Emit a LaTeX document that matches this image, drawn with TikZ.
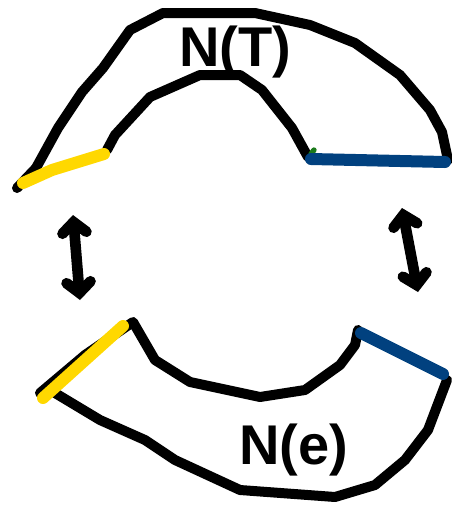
\documentclass[tikz,border=0pt]{standalone}
\usepackage{fontspec}
\setmainfont{Liberation Sans}
\usetikzlibrary{arrows.meta}
\definecolor{sketchyel}{HTML}{FFD800}
\definecolor{sketchblu}{HTML}{01417F}
\definecolor{sketchgrn}{HTML}{1B7A1B}

\begin{document}
\begin{tikzpicture}[
    x=0.75pt, y=-0.75pt,
    pen/.style={draw=black, line width=7.5pt, line join=round, line cap=round},
    hilite/.style={line width=9pt, line cap=round},
    swap/.style={pen, line width=8pt, {Straight Barb[length=8pt,width=18pt,line cap=round]}-{Straight Barb[length=8pt,width=18pt,line cap=round]}},
    lbl/.style={font=\bfseries\fontsize{42}{42}\selectfont, inner sep=0pt}
  ]
  \useasboundingbox (0,0) rectangle (452,508);
  % top band N(T)
  \draw[pen] (17,188) -- (36,168) -- (58,128) -- (82,92) -- (103,68) -- (130,30) -- (163,13)
    -- (255,13) -- (310,25) -- (355,43) -- (400,75) -- (430,110) -- (442,132) -- (448,160);
  \draw[pen] (107,150) -- (115,135) -- (150,97) -- (200,75) -- (240,75) -- (262,90)
    -- (292,128) -- (308,157);
  \draw[sketchgrn, line width=4pt, line cap=round] (311,154) -- (314,150);
  \draw[hilite, sketchyel] (23,183) -- (52,170) -- (104,154);
  \draw[hilite, sketchblu] (311,159) -- (445,162);
  \node[lbl] (nt) at (235,52) {N(T)};
  % bottom band N(e)
  \draw[pen] (40,393) -- (85,355) -- (133,322) -- (155,360) -- (190,382) -- (260,397)
    -- (305,390) -- (340,365) -- (355,345) -- (358,330);
  \draw[pen] (55,393) -- (100,420) -- (145,440) -- (175,460) -- (240,490) -- (335,497)
    -- (375,485) -- (405,460) -- (428,430) -- (447,380);
  \draw[hilite, sketchyel] (43,398) -- (123,326);
  \draw[hilite, sketchblu] (361,333) -- (443,374);
  \node[lbl] (ne) at (294,450) {N(e)};
  % correspondence arrows
  \coordinate (lu) at (73,215);
  \coordinate (ld) at (80,300);
  \coordinate (ru) at (402,208);
  \coordinate (rd) at (418,292);
  \draw[swap] (lu) -- (ld);
  \draw[swap] (ru) -- (rd);
\end{tikzpicture}
\end{document}
